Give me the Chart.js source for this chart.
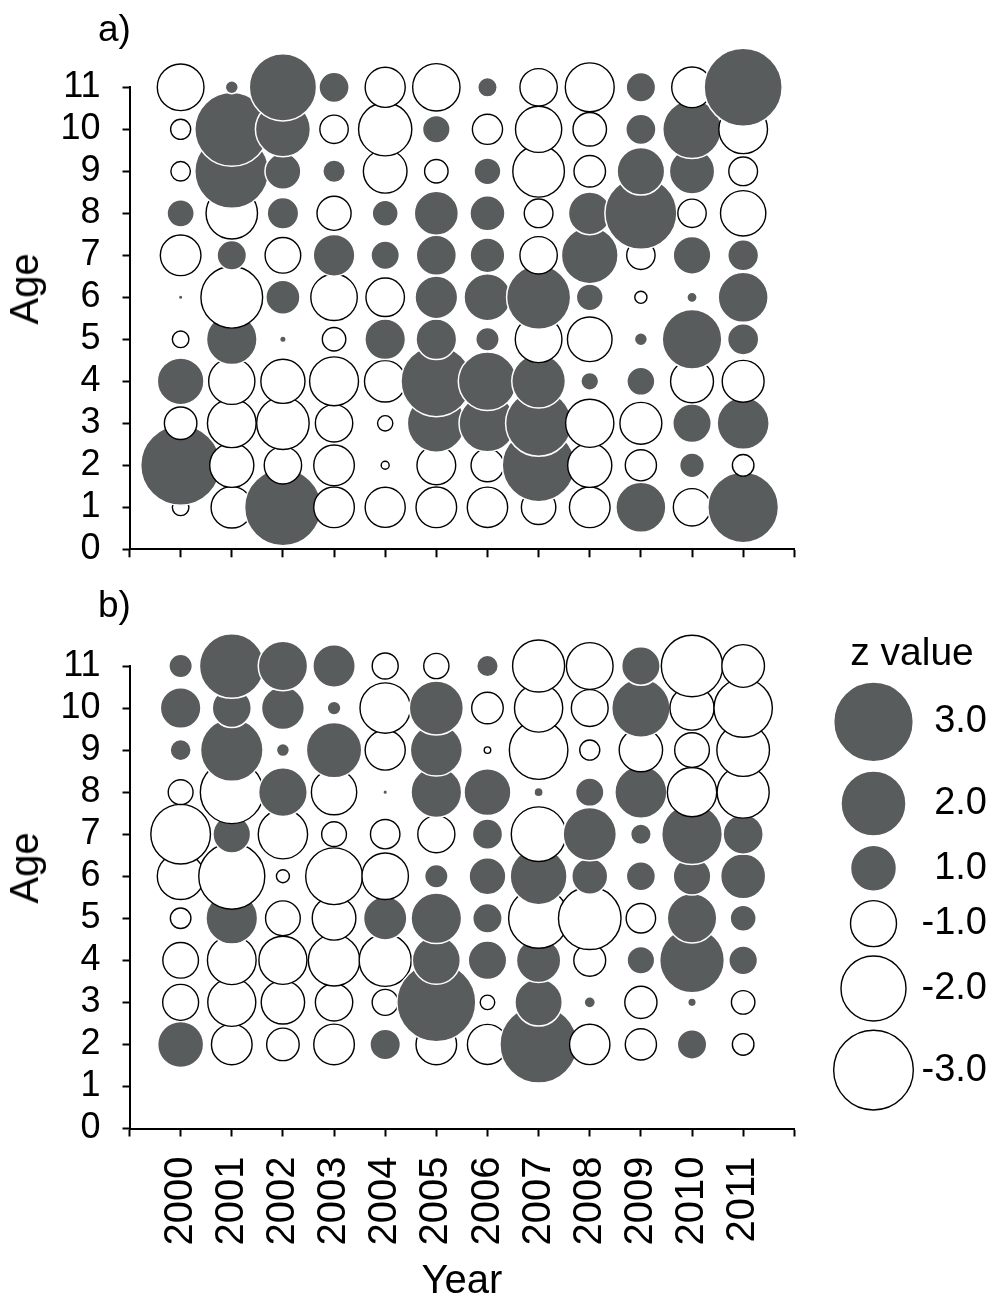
<!DOCTYPE html>
<html>
<head>
<meta charset="utf-8">
<title>Age-year residual bubble plots</title>
<script src="https://cdn.jsdelivr.net/npm/chart.js@4.4.1/dist/chart.umd.min.js"></script>
<style>
  html, body { margin: 0; padding: 0; background: #ffffff; }
  #page { position: relative; width: 997px; height: 1306px; overflow: hidden;
          font-family: Arial, "Liberation Sans", sans-serif; color: #000; }
  canvas { position: absolute; }
  .lbl { position: absolute; white-space: nowrap; line-height: 1; }
  .rot { transform: translate(-50%, -50%) rotate(-90deg); }
</style>
</head>
<body>
<div id="page">
  <canvas id="panelA" width="997" height="600" style="left:0;top:0"></canvas>
  <canvas id="panelB" width="997" height="726" style="left:0;top:580px"></canvas>
  <canvas id="legendChart" width="197" height="580" style="left:800px;top:580px"></canvas>

  <div class="lbl" style="left:98px;top:10px;font-size:37px">a)</div>
  <div class="lbl" style="left:98px;top:586px;font-size:37px">b)</div>
  <div class="lbl rot" style="left:24px;top:289px;font-size:40px">Age</div>
  <div class="lbl rot" style="left:24px;top:868px;font-size:40px">Age</div>
  <div class="lbl" style="left:462px;top:1259px;font-size:40px;transform:translateX(-50%)">Year</div>
  <div class="lbl" style="left:912px;top:632px;font-size:39px;transform:translateX(-50%)">z value</div>
</div>

<script>
// Years on the x axis
const years = [2000, 2001, 2002, 2003, 2004, 2005, 2006, 2007, 2008, 2009, 2010, 2011];

// Ages shown in each panel
const agesA = [1, 2, 3, 4, 5, 6, 7, 8, 9, 10, 11];
const agesB = [2, 3, 4, 5, 6, 7, 8, 9, 10, 11];

// Panel a) z values: one row per year, columns follow agesA
const zA = [
  [-0.13, 3.02, -0.50, 1.03, -0.13, 0.01, -0.78, 0.35, -0.18, -0.19, -1.03], // 2000
  [-0.81, -0.92, -1.12, -1.01, 1.21, -1.80, 0.41, -1.25, 2.59, 2.59, 0.08],  // 2001
  [2.78, -0.66, -1.30, -0.92, 0.02, 0.55, -0.60, 0.47, 0.61, 1.43, 2.14],    // 2002
  [-0.78, -0.78, -0.66, -1.13, -0.26, -1.02, 0.82, -0.55, 0.24, -0.38, 0.43],// 2003
  [-0.76, -0.03, -0.11, -0.81, 0.78, -0.70, 0.38, 0.32, -0.90, -1.34, -0.76],// 2004
  [-0.78, -0.71, 1.59, 2.36, 0.78, 0.86, 0.76, 0.92, -0.26, 0.36, -1.06],    // 2005
  [-0.77, -0.51, 1.53, 1.61, 0.26, 1.04, 0.57, 0.58, 0.34, -0.43, 0.18],     // 2006
  [-0.56, 2.50, 2.06, 1.36, -1.03, 1.94, -0.66, -0.39, -1.26, -1.01, -0.66], // 2007
  [-0.78, -0.92, -1.10, 0.15, -0.94, 0.34, 1.52, 0.86, -0.47, -0.53, -1.13], // 2008
  [1.18, -0.46, -0.83, 0.37, 0.08, -0.07, -0.38, 2.45, 1.07, 0.43, 0.41],    // 2009
  [-0.66, 0.29, 0.70, -0.87, 1.68, 0.05, 0.67, -0.38, 0.97, 1.62, -0.78],    // 2010
  [2.36, -0.22, 1.28, -0.83, 0.46, 1.18, 0.45, -0.97, -0.39, -1.12, 2.88]    // 2011
];

// Panel b) z values: one row per year, columns follow agesB
const zB = [
  [1.00, -0.61, -0.60, -0.20, -1.03, -1.68, -0.29, 0.21, 0.78, 0.26],   // 2000
  [-0.78, -1.09, -1.12, 1.26, -2.06, 0.67, -1.87, 1.85, 0.72, 1.98],    // 2001
  [-0.50, -0.89, -1.09, -0.57, -0.08, -1.15, 1.12, 0.08, 0.87, 1.15],   // 2002
  [-0.78, -0.66, -1.25, -0.90, -1.52, -0.29, -0.97, 1.45, 0.09, 0.85],  // 2003
  [0.44, -0.32, -1.28, 0.89, -1.02, -0.41, 0.01, -0.76, -1.20, -0.32],  // 2004
  [-0.78, 2.95, 1.09, 1.21, 0.26, -0.65, 1.21, 1.28, 1.38, -0.30],      // 2005
  [-0.76, -0.10, 0.70, 0.41, 0.64, 0.43, 1.04, -0.02, -0.47, 0.22],     // 2006
  [2.83, 1.06, 0.93, -1.70, 1.53, -1.41, 0.04, -1.62, -1.10, -1.28],    // 2007
  [-0.77, 0.06, -0.48, -1.85, 0.61, 1.34, 0.38, -0.19, -0.64, -1.03],   // 2008
  [-0.46, -0.49, 0.36, -0.41, 0.40, 0.20, 1.28, -0.89, 1.61, 0.70],     // 2009
  [0.41, 0.035, 1.98, 1.16, 0.67, 1.74, -1.15, -0.57, -0.92, -1.78],    // 2010
  [-0.22, -0.26, 0.39, 0.32, 0.96, 0.76, -1.28, -1.31, -1.61, -0.86]    // 2011
];

// Key entries for the size legend
const legendZ = [3.0, 2.0, 1.0, -1.0, -2.0, -3.0];

// ---- drawing ----
const FONT = 'Arial, "Liberation Sans", sans-serif';
const FILL = '#595c5d';
const UNIT_RADIUS = 23; // px radius of a |z| = 1 bubble; area grows with |z|

Chart.defaults.font.family = FONT;
Chart.defaults.color = '#000';

function bubbleRadius(z) {
  return UNIT_RADIUS * Math.sqrt(Math.abs(z));
}

const pointStyle = {
  backgroundColor: c => (c.raw && c.raw.z > 0 ? FILL : '#ffffff'),
  borderColor: c => (c.raw && c.raw.z > 0 ? '#ffffff' : '#000000'),
  borderWidth: c => (c.raw && c.raw.z > 0 ? 1.5 : 1.4),
  hoverRadius: 0,
  hoverBorderWidth: 0
};

function buildPoints(z, ages) {
  // year-major, age ascending: older ages are painted over younger ones
  const pts = [];
  years.forEach((yr, i) => {
    ages.forEach((age, j) => {
      pts.push({ x: yr, y: age, r: bubbleRadius(z[i][j]), z: z[i][j] });
    });
  });
  return pts;
}

function panelConfig(z, ages, opts) {
  return {
    type: 'bubble',
    data: { datasets: [Object.assign({ data: buildPoints(z, ages), clip: false }, pointStyle)] },
    options: {
      responsive: false,
      animation: false,
      events: [],
      devicePixelRatio: 1,
      layout: { autoPadding: false, padding: opts.padding },
      plugins: { legend: { display: false }, tooltip: { enabled: false } },
      scales: {
        x: {
          type: 'linear',
          min: 1999,
          max: 2012,
          ticks: {
            display: opts.showYears,
            stepSize: 1,
            autoSkip: false,
            minRotation: 90,
            maxRotation: 90,
            padding: 20,
            font: { size: 40 },
            color: '#000',
            callback: v => (years.includes(v) ? String(v) : '')
          },
          grid: { display: true, drawOnChartArea: false, drawTicks: true,
                  tickLength: 8, tickWidth: 2, tickColor: '#000' },
          border: { display: true, color: '#000', width: 2 },
          afterFit: s => { s.height = opts.xAxisHeight; }
        },
        y: {
          type: 'linear',
          min: 0,
          max: 11,
          ticks: { stepSize: 1, autoSkip: false, padding: 22, font: { size: 36 }, color: '#000' },
          grid: { display: true, drawOnChartArea: false, drawTicks: true,
                  tickLength: 7, tickWidth: 2, tickColor: '#000' },
          border: { display: true, color: '#000', width: 2 },
          afterFit: s => { s.width = 129.5; }
        }
      }
    }
  };
}

// panel a: plot area 87.3 .. 549.3 px from the top of the page
new Chart(document.getElementById('panelA'), panelConfig(zA, agesA, {
  showYears: false,
  xAxisHeight: 20,
  padding: { left: 0, top: 87.3, right: 202.7, bottom: 30.7 }
}));

// panel b: plot area 666 .. 1128.5 px from the top of the page
new Chart(document.getElementById('panelB'), panelConfig(zB, agesB, {
  showYears: true,
  xAxisHeight: 150,
  padding: { left: 0, top: 86, right: 202.7, bottom: 27.5 }
}));

// Size key: entries stacked top to bottom with a constant gap between circles
const LEGEND_TOP = 62;
const LEGEND_GAP = 9.3;
const legendRadii = legendZ.map(bubbleRadius);
const legendY = [];
legendRadii.forEach((r, i) => {
  legendY.push(i === 0 ? LEGEND_TOP + r : legendY[i - 1] + legendRadii[i - 1] + r + LEGEND_GAP);
});

new Chart(document.getElementById('legendChart'), {
  type: 'bubble',
  data: {
    datasets: [Object.assign({
      data: legendZ.map((z, i) => ({ x: 0, y: legendY[i], r: legendRadii[i], z: z })),
      clip: false
    }, pointStyle)]
  },
  options: {
    responsive: false,
    animation: false,
    events: [],
    devicePixelRatio: 1,
    // key labels end 10px short of the page edge
    layout: { autoPadding: false, padding: { left: 33.5, right: 10, top: 40, bottom: 40 } },
    plugins: { legend: { display: false }, tooltip: { enabled: false } },
    scales: {
      x: { type: 'linear', min: -1, max: 1, display: false },
      y: {
        type: 'linear',
        position: 'right',
        min: 0,
        max: 500,
        reverse: true,
        afterBuildTicks: s => { s.ticks = legendY.map(v => ({ value: v })); },
        ticks: {
          autoSkip: false,
          crossAlign: 'far',
          padding: 4,
          font: { size: 38 },
          color: '#000',
          callback: (v, i) => legendZ[i].toFixed(1)
        },
        grid: { display: false, drawTicks: false },
        border: { display: false },
        afterFit: s => { s.width = 73.5; }
      }
    }
  }
});
</script>
</body>
</html>
